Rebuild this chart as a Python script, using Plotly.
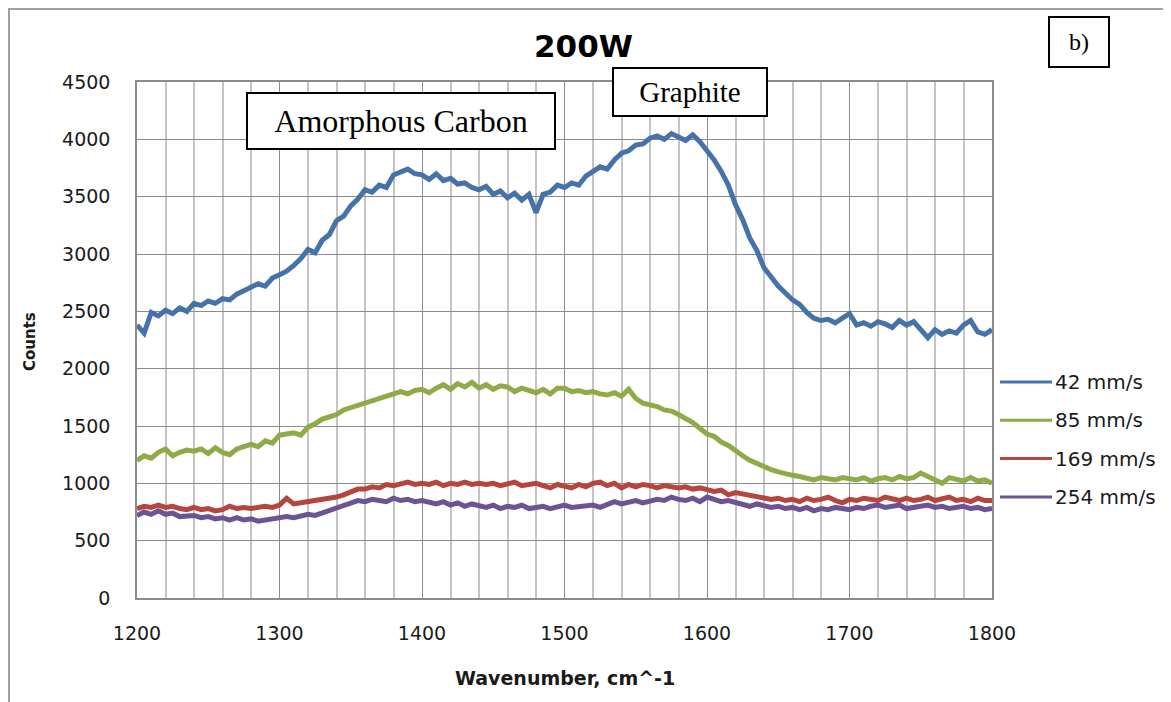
import plotly.graph_objects as go

wavenumber = list(range(1200, 1801, 5))

counts_42 = [2380, 2310, 2490, 2460, 2510, 2480, 2530, 2500, 2570, 2550,
             2590, 2570, 2610, 2600, 2650, 2680, 2700, 2740, 2720, 2790,
             2820, 2850, 2900, 2960, 3040, 3010, 3120, 3170, 3290, 3330,
             3420, 3480, 3560, 3540, 3600, 3580, 3690, 3710, 3740, 3700,
             3690, 3650, 3700, 3640, 3660, 3610, 3620, 3580, 3560, 3590,
             3520, 3550, 3490, 3530, 3470, 3520, 3360, 3520, 3540, 3600,
             3580, 3620, 3600, 3680, 3720, 3760, 3740, 3820, 3880, 3900,
             3950, 3960, 4010, 4030, 4000, 4050, 4020, 3990, 4040, 3980,
             3900, 3820, 3720, 3600, 3430, 3300, 3140, 3030, 2880, 2800,
             2720, 2660, 2600, 2560, 2490, 2440, 2420, 2430, 2400, 2440,
             2480, 2380, 2400, 2370, 2410, 2390, 2360, 2420, 2380, 2410,
             2340, 2270, 2340, 2300, 2330, 2310, 2380, 2420, 2320, 2300,
             2340]

counts_85 = [1200, 1240, 1220, 1270, 1300, 1240, 1270, 1290, 1280, 1300,
             1260, 1310, 1270, 1250, 1300, 1320, 1340, 1320, 1370, 1350,
             1420, 1430, 1440, 1420, 1490, 1520, 1560, 1580, 1600, 1640,
             1660, 1690, 1710, 1720, 1750, 1770, 1790, 1800, 1780, 1810,
             1820, 1790, 1830, 1860, 1820, 1870, 1840, 1880, 1830, 1860,
             1820, 1850, 1840, 1800, 1830, 1810, 1790, 1820, 1780, 1830,
             1830, 1800, 1810, 1790, 1800, 1780, 1770, 1790, 1760, 1820,
             1740, 1700, 1690, 1670, 1640, 1630, 1600, 1570, 1530, 1480,
             1430, 1410, 1360, 1330, 1280, 1240, 1200, 1170, 1150, 1120,
             1100, 1080, 1070, 1060, 1050, 1030, 1050, 1040, 1030, 1050,
             1040, 1030, 1050, 1020, 1040, 1050, 1030, 1060, 1040, 1050,
             1090, 1060, 1040, 1000, 1050, 1030, 1020, 1050, 1020, 1030,
             1000]

counts_169 = [780, 800, 790, 810, 790, 800, 780, 770, 790, 770,
              780, 760, 770, 800, 780, 790, 780, 790, 800, 790,
              810, 870, 820, 830, 840, 850, 850, 860, 880, 900,
              930, 950, 950, 970, 960, 990, 980, 1000, 1010, 990,
              1000, 990, 1010, 980, 1000, 990, 1010, 990, 1000, 990,
              1000, 980, 990, 1010, 980, 990, 1000, 980, 960, 990,
              980, 960, 990, 970, 1000, 1010, 980, 1000, 960, 990,
              970, 990, 980, 960, 980, 970, 960, 970, 950, 960,
              950, 930, 940, 900, 920, 910, 890, 880, 870, 860,
              870, 850, 860, 840, 870, 850, 860, 880, 850, 830,
              860, 850, 870, 860, 850, 880, 860, 850, 870, 850,
              860, 880, 850, 860, 880, 850, 860, 840, 870, 850,
              850]

counts_254 = [720, 750, 730, 760, 730, 740, 710, 720, 720, 700,
              710, 690, 700, 680, 700, 680, 690, 670, 680, 700,
              700, 710, 700, 720, 730, 720, 740, 760, 790, 800,
              830, 850, 840, 860, 850, 840, 870, 850, 860, 840,
              850, 830, 820, 840, 810, 830, 800, 820, 800, 790,
              810, 780, 800, 790, 810, 780, 790, 800, 780, 800,
              810, 790, 800, 810, 810, 790, 820, 840, 820, 830,
              850, 830, 840, 860, 850, 880, 860, 850, 870, 840,
              880, 860, 840, 850, 830, 810, 800, 820, 800, 790,
              800, 780, 790, 770, 790, 760, 780, 770, 790, 780,
              770, 790, 780, 800, 810, 790, 800, 810, 780, 790,
              800, 810, 790, 800, 780, 790, 800, 780, 790, 770,
              780]

series_names = ["42 mm/s", "85 mm/s", "169 mm/s", "254 mm/s"]
series_values = [counts_42, counts_85, counts_169, counts_254]
series_colors = ["#4672AA", "#8DAC47", "#B4453F", "#6C5494"]

x_tick_values = [1200, 1300, 1400, 1500, 1600, 1700, 1800]
y_tick_values = [0, 500, 1000, 1500, 2000, 2500, 3000, 3500, 4000, 4500]

fig = go.Figure()
for name, vals, col in zip(series_names, series_values, series_colors):
    fig.add_trace(go.Scatter(x=wavenumber, y=vals, mode="lines", name=name,
                             line=dict(color=col, width=5), showlegend=False))

OFF = 8  # page body margin
W, H = 1171, 702
PLOT_X0, PLOT_X1, PLOT_Y0, PLOT_Y1 = 137, 992, 82, 598  # screen pixels
L = PLOT_X0 - OFF
T = PLOT_Y0 - OFF
PW = PLOT_X1 - PLOT_X0
PH = PLOT_Y1 - PLOT_Y0
R = W - L - PW
B = H - T - PH


def px(xs):
    return (xs - PLOT_X0) / PW


def py(ys):
    return (PLOT_Y1 - ys) / PH


shapes = [dict(type="rect", xref="paper", yref="paper",
               x0=px(9), y0=py(720), x1=px(1190), y1=py(9),
               line=dict(color="#a0a0a0", width=2), fillcolor="rgba(0,0,0,0)", layer="below")]
annotations = []

# manual legend
for i, (name, col) in enumerate(zip(series_names, series_colors)):
    yy = py(382 + i * 38.3)
    shapes.append(dict(type="line", xref="paper", yref="paper",
                       x0=px(1000), x1=px(1052), y0=yy, y1=yy,
                       line=dict(color=col, width=3)))
    annotations.append(dict(xref="paper", yref="paper", x=px(1053), y=yy,
                            xanchor="left", yanchor="middle", showarrow=False,
                            text=name, font=dict(family="DejaVu Sans", size=20, color="#1a1a1a")))

annotations += [
    dict(xref="paper", yref="paper", x=px(583), y=py(46), text="<b>200W</b>", showarrow=False,
         xanchor="center", yanchor="middle", font=dict(family="DejaVu Sans", size=31, color="#000")),
    dict(xref="paper", yref="paper", x=px(30), y=py(341), text="<b>Counts</b>", showarrow=False,
         textangle=-90, xanchor="center", yanchor="middle",
         font=dict(family="DejaVu Sans", size=15, color="#1a1a1a")),
    dict(xref="paper", yref="paper", x=px(565), y=py(678), text="<b>Wavenumber, cm^-1</b>",
         showarrow=False, xanchor="center", yanchor="middle",
         font=dict(family="DejaVu Sans", size=19, color="#1a1a1a")),
    dict(xref="paper", yref="paper", x=px(246), y=py(92), text="Amorphous Carbon", showarrow=False,
         xanchor="left", yanchor="top", width=304, height=52, borderpad=1,
         bordercolor="#000", borderwidth=2, bgcolor="#fff",
         font=dict(family="Liberation Serif", size=32, color="#000")),
    dict(xref="paper", yref="paper", x=px(612), y=py(67), text="Graphite", showarrow=False,
         xanchor="left", yanchor="top", width=150, height=44, borderpad=1,
         bordercolor="#000", borderwidth=2, bgcolor="#fff",
         font=dict(family="Liberation Serif", size=29, color="#000")),
    dict(xref="paper", yref="paper", x=px(1048), y=py(16), text="b)", showarrow=False,
         xanchor="left", yanchor="top", width=56, height=46, borderpad=1,
         bordercolor="#000", borderwidth=2, bgcolor="#fff",
         font=dict(family="Liberation Serif", size=24, color="#000")),
]

fig.update_layout(
    width=W, height=H,
    margin=dict(l=L, r=R, t=T, b=B, pad=0),
    paper_bgcolor="#ffffff", plot_bgcolor="#ffffff",
    shapes=shapes, annotations=annotations,
    xaxis=dict(range=[1200, 1800], tickvals=x_tick_values, showgrid=True,
               gridcolor="#8c8c8c", gridwidth=1.2, zeroline=False,
               showline=True, linecolor="#8c8c8c", linewidth=1.5, mirror=True,
               ticks="", ticklabelstandoff=17,
               minor=dict(tickvals=[v for v in range(1200, 1801, 20) if v % 100], showgrid=True,
                          gridcolor="#c4c4c4", gridwidth=2),
               tickfont=dict(family="DejaVu Sans", size=19, color="#1a1a1a")),
    yaxis=dict(range=[0, 4500], tickvals=y_tick_values, showgrid=True,
               gridcolor="#8c8c8c", gridwidth=1.2, zeroline=False,
               showline=True, linecolor="#8c8c8c", linewidth=1.5, mirror=True,
               ticks="", ticklabelstandoff=21,
               tickfont=dict(family="DejaVu Sans", size=19, color="#1a1a1a")),
)

fig.write_html("out.html")
